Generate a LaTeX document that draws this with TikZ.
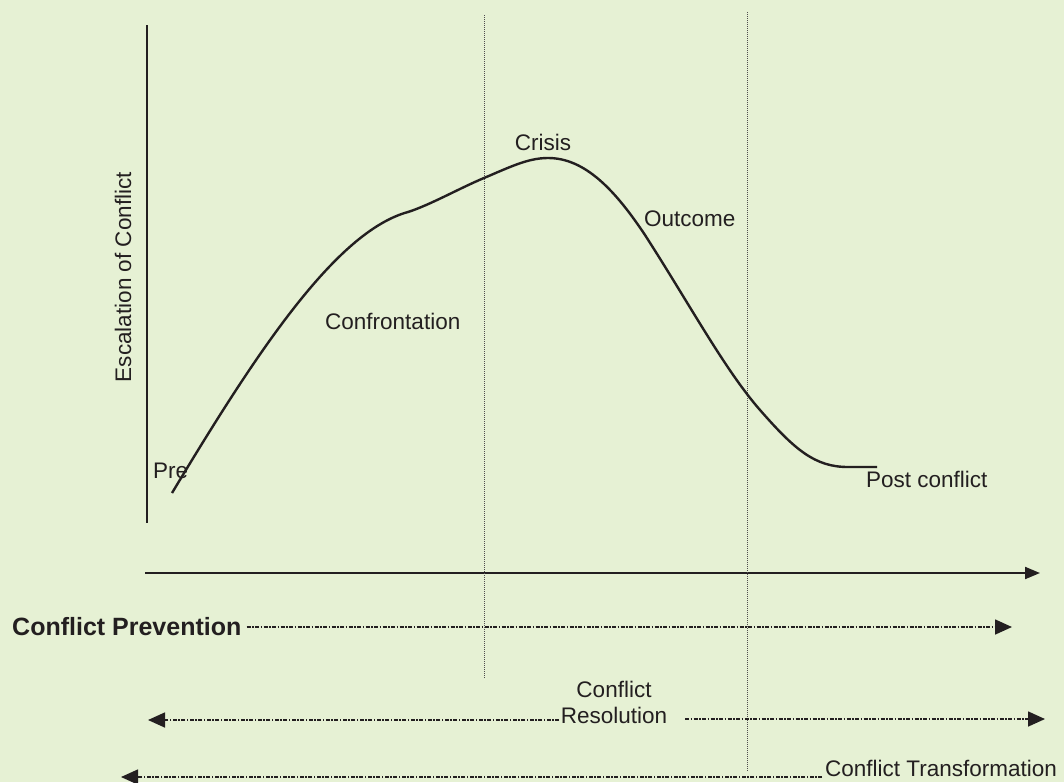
\documentclass[tikz,border=0pt]{standalone}
\usepackage{fontspec}
\setmainfont{Liberation Sans}
\usetikzlibrary{arrows.meta}
\definecolor{bgcol}{RGB}{230,241,212}
\definecolor{ink}{RGB}{35,31,32}
\begin{document}
\begin{tikzpicture}[x=1pt,y=-1pt,
  lbl/.style={inner sep=0pt, text=ink, font=\fontsize{22.5pt}{26pt}\selectfont},
  guide/.style={draw=ink!80, line width=1pt, dash pattern=on 1pt off 1pt},
  span/.style={draw=ink, line width=1.6pt, dash pattern=on 4pt off 1.5pt on 1.5pt off 1.5pt},
  tipR/.style={-{Triangle[length=17pt,width=15pt]}},
  axis/.style={draw=ink, line width=2pt}]
  \fill[bgcol] (0,0) rectangle (1064,782);
  \useasboundingbox (0,0) rectangle (1064,782);

  % axes
  \coordinate (yTop) at (147,25);
  \coordinate (yBot) at (147,523);
  \coordinate (xL) at (145,573);
  \coordinate (xR) at (1040,573);
  \draw[axis] (yTop) -- (yBot);
  \draw[axis,-{Triangle[length=15pt,width=12pt]}] (xL) -- (xR);

  % phase boundaries
  \coordinate (g1a) at (484,15);  \coordinate (g1b) at (484,678);
  \coordinate (g2a) at (747,12);  \coordinate (g2b) at (747,772);
  \draw[guide] (g1a) -- (g1b);
  \draw[guide] (g2a) -- (g2b);

  % escalation curve
  \draw[ink, line width=2.4pt, line join=round]
    (172,493) .. controls (255,355) and (335,232) .. (408,212)
    .. controls (430,205) and (460,188) .. (484,178)
    .. controls (510,167) and (528,158) .. (548,158)
    .. controls (585,158) and (615,190) .. (645,235)
    .. controls (690,305) and (725,370) .. (760,410)
    .. controls (795,450) and (815,467) .. (848,467)
    -- (877,467);

  % curve labels
  \node[lbl] (crisis) at (543,142) {Crisis};
  \node[lbl,anchor=west] (outcome) at (644,219) {Outcome};
  \node[lbl,anchor=west] (confr) at (325,321) {Confrontation};
  \node[lbl,anchor=west] (pre) at (153,471) {Pre};
  \node[lbl,anchor=west] (post) at (866,479) {Post conflict};
  \node[lbl,rotate=90] (esc) at (123,277) {Escalation of Conflict};

  % intervention spans
  \node[lbl,anchor=west,font=\fontsize{25pt}{29pt}\selectfont\bfseries] (prev) at (12,627) {Conflict Prevention};
  \coordinate (prevEnd) at (1012,627);
  \draw[span,tipR] (prev.east) ++(5pt,0) coordinate (prevStart) -- (prevEnd);

  \node[lbl,align=center] (res) at (614,702) {Conflict\\Resolution};
  \coordinate (resL) at (559,720);
  \coordinate (resLEnd) at (148,720);
  \coordinate (resR) at (685,719);
  \coordinate (resREnd) at (1045,719);
  \draw[span,tipR] (resL) -- (resLEnd);
  \draw[span,tipR] (resR) -- (resREnd);

  \node[lbl,anchor=west] (trans) at (825,768) {Conflict Transformation};
  \coordinate (transStart) at (822,777);
  \coordinate (transEnd) at (121,777);
  \draw[span,tipR] (transStart) -- (transEnd);
\end{tikzpicture}
\end{document}
